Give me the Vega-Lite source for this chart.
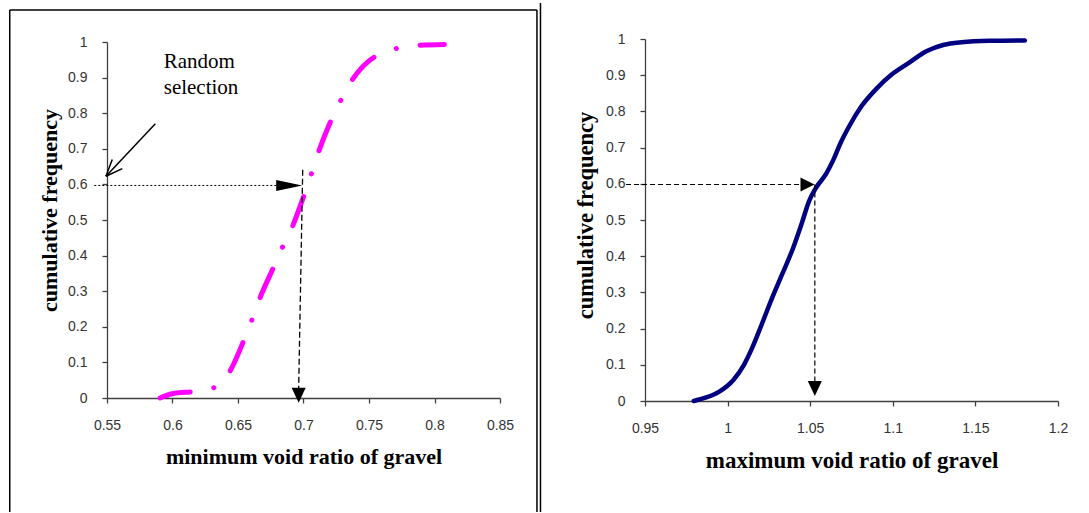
{
  "$schema": "https://vega.github.io/schema/vega-lite/v6.json",
  "padding": {"left": 8, "top": 2, "right": 0, "bottom": 0},
  "background": "white",
  "bounds": "flush",
  "spacing": 145,
  "center": true,
  "config": {
    "view": {"stroke": null},
    "axis": {
      "grid": false,
      "domainColor": "#404040",
      "tickColor": "#404040",
      "domainWidth": 1.3,
      "tickWidth": 1.3,
      "tickSize": 5,
      "labelFont": "Liberation Sans",
      "labelFontSize": 14,
      "labelColor": "#333333",
      "labelPadding": 15,
      "labelOverlap": false,
      "labelFlush": false,
      "titleFont": "Liberation Serif",
      "titleFontWeight": "bold",
      "titleColor": "#000000"
    }
  },
  "hconcat": [
    {
      "width": 393,
      "height": 356,
      "encoding": {
        "x": {
          "field": "x", "type": "quantitative",
          "scale": {"domain": [0.55, 0.85], "nice": false, "zero": false},
          "axis": {"values": [0.55, 0.6, 0.65, 0.7, 0.75, 0.8, 0.85], "format": "~g", "title": "minimum void ratio of gravel", "titleFontSize": 22, "titlePadding": 14}
        },
        "y": {
          "field": "y", "type": "quantitative",
          "scale": {"domain": [0, 1], "nice": false, "zero": false},
          "axis": {"values": [0, 0.1, 0.2, 0.3, 0.4, 0.5, 0.6, 0.7, 0.8, 0.9, 1], "format": "~g", "title": "cumulative frequency", "titleFontSize": 22, "titlePadding": 6, "titleY": 168}
        }
      },
      "layer": [
        {
          "data": {"values": [
            {"x": 0.47576, "y": 1.0899, "x2": 0.47576, "y2": -0.32},
            {"x": 0.47576, "y": 1.0899, "x2": 0.8782, "y2": 1.0899},
            {"x": 0.8782, "y": 1.0899, "x2": 0.8782, "y2": -0.32},
            {"x": 0.8809, "y": 1.1096, "x2": 0.8809, "y2": -0.32}
          ]},
          "mark": {"type": "rule", "color": "#000000", "strokeWidth": 1.5},
          "encoding": {"x2": {"field": "x2"}, "y2": {"field": "y2"}}
        },
        {
          "data": {"values": [
            {"x": 0.5905, "y": 0}, {"x": 0.5998, "y": 0.012}, {"x": 0.618, "y": 0.019},
            {"x": 0.633, "y": 0.031}, {"x": 0.6435, "y": 0.073}, {"x": 0.655, "y": 0.167},
            {"x": 0.6607, "y": 0.22}, {"x": 0.666, "y": 0.274}, {"x": 0.6766, "y": 0.363},
            {"x": 0.6832, "y": 0.418}, {"x": 0.69, "y": 0.468}, {"x": 0.7, "y": 0.565},
            {"x": 0.705, "y": 0.618}, {"x": 0.7096, "y": 0.671}, {"x": 0.72, "y": 0.771},
            {"x": 0.7263, "y": 0.82}, {"x": 0.7335, "y": 0.872}, {"x": 0.7507, "y": 0.949},
            {"x": 0.765, "y": 0.974}, {"x": 0.78, "y": 0.989}, {"x": 0.8076, "y": 0.993}
          ]},
          "mark": {"type": "line", "color": "#FF00FF", "strokeWidth": 5, "interpolate": "monotone", "strokeCap": "round", "strokeDash": [31, 24, 0.1, 24]},
          "encoding": {}
        },
        {
          "data": {"values": [{"x": 0.5403, "y": 0.597, "x2": 0.69, "y2": 0.597}]},
          "mark": {"type": "rule", "color": "#000000", "strokeWidth": 1, "strokeDash": [2, 2]},
          "encoding": {"x2": {"field": "x2"}, "y2": {"field": "y2"}}
        },
        {
          "data": {"values": [{"x": 0.6994, "y": 0.641, "x2": 0.6963, "y2": 0.025}]},
          "mark": {"type": "rule", "color": "#000000", "strokeWidth": 1.3, "strokeDash": [6, 3]},
          "encoding": {"x2": {"field": "x2"}, "y2": {"field": "y2"}}
        },
        {
          "data": {"values": [
            {"x": 0.5869, "y": 0.7705, "x2": 0.5492, "y2": 0.623},
            {"x": 0.5492, "y": 0.623, "x2": 0.5617, "y2": 0.6444},
            {"x": 0.5492, "y": 0.623, "x2": 0.554, "y2": 0.6702}
          ]},
          "mark": {"type": "rule", "color": "#000000", "strokeWidth": 1.5},
          "encoding": {"x2": {"field": "x2"}, "y2": {"field": "y2"}}
        },
        {
          "data": {"values": [{"x": 0.699, "y": 0.597}]},
          "mark": {"type": "point", "shape": "M-2,-0.42L0,0L-2,0.42Z", "size": 676, "filled": true, "color": "#000000", "opacity": 1},
          "encoding": {}
        },
        {
          "data": {"values": [{"x": 0.6963, "y": -0.013}]},
          "mark": {"type": "point", "shape": "M-0.47,-1L0.47,-1L0,0Z", "size": 900, "filled": true, "color": "#000000", "opacity": 1},
          "encoding": {}
        },
        {
          "data": {"values": [
            {"x": 0.5933, "y": 0.944, "t": "Random"},
            {"x": 0.5933, "y": 0.8716, "t": "selection"}
          ]},
          "mark": {"type": "text", "font": "Liberation Serif", "fontSize": 21, "align": "left", "baseline": "middle", "color": "#000000"},
          "encoding": {"text": {"field": "t"}}
        }
      ]
    },
    {
      "width": 413,
      "height": 362,
      "encoding": {
        "x": {
          "field": "x", "type": "quantitative",
          "scale": {"domain": [0.95, 1.2], "nice": false, "zero": false},
          "axis": {"values": [0.95, 1, 1.05, 1.1, 1.15, 1.2], "format": "~g", "title": "maximum void ratio of gravel", "titleFontSize": 23, "titlePadding": 14}
        },
        "y": {
          "field": "y", "type": "quantitative",
          "scale": {"domain": [0, 1], "nice": false, "zero": false},
          "axis": {"values": [0, 0.1, 0.2, 0.3, 0.4, 0.5, 0.6, 0.7, 0.8, 0.9, 1], "format": "~g", "title": "cumulative frequency", "titleFontSize": 22.5, "titlePadding": 8, "titleY": 176}
        }
      },
      "layer": [
        {
          "data": {"values": [
            {"x": 0.9795, "y": 0}, {"x": 0.9865, "y": 0.009}, {"x": 0.995, "y": 0.026},
            {"x": 1.0035, "y": 0.058}, {"x": 1.0099, "y": 0.1}, {"x": 1.0152, "y": 0.15},
            {"x": 1.0205, "y": 0.21}, {"x": 1.0269, "y": 0.284}, {"x": 1.0333, "y": 0.353},
            {"x": 1.0396, "y": 0.422}, {"x": 1.0449, "y": 0.491}, {"x": 1.0492, "y": 0.551},
            {"x": 1.0534, "y": 0.588}, {"x": 1.0598, "y": 0.629}, {"x": 1.064, "y": 0.666},
            {"x": 1.0683, "y": 0.712}, {"x": 1.0736, "y": 0.759}, {"x": 1.081, "y": 0.814},
            {"x": 1.0906, "y": 0.865}, {"x": 1.0991, "y": 0.901}, {"x": 1.1097, "y": 0.934},
            {"x": 1.1203, "y": 0.966}, {"x": 1.131, "y": 0.984}, {"x": 1.1416, "y": 0.991},
            {"x": 1.1586, "y": 0.995}, {"x": 1.1799, "y": 0.996}
          ]},
          "mark": {"type": "line", "color": "#000080", "strokeWidth": 4.5, "interpolate": "monotone", "strokeCap": "round"},
          "encoding": {}
        },
        {
          "data": {"values": [
            {"x": 0.9385, "y": 0.598, "x2": 1.046, "y2": 0.598},
            {"x": 1.0528, "y": 0.598, "x2": 1.0528, "y2": 0.05}
          ]},
          "mark": {"type": "rule", "color": "#000000", "strokeWidth": 1.2, "strokeDash": [5, 3]},
          "encoding": {"x2": {"field": "x2"}, "y2": {"field": "y2"}}
        },
        {
          "data": {"values": [{"x": 1.0526, "y": 0.598}]},
          "mark": {"type": "point", "shape": "M-1,-0.5L0,0L-1,0.5Z", "size": 784, "filled": true, "color": "#000000", "opacity": 1},
          "encoding": {}
        },
        {
          "data": {"values": [{"x": 1.0528, "y": 0.0138}]},
          "mark": {"type": "point", "shape": "M-0.47,-1L0.47,-1L0,0Z", "size": 900, "filled": true, "color": "#000000", "opacity": 1},
          "encoding": {}
        }
      ]
    }
  ]
}
